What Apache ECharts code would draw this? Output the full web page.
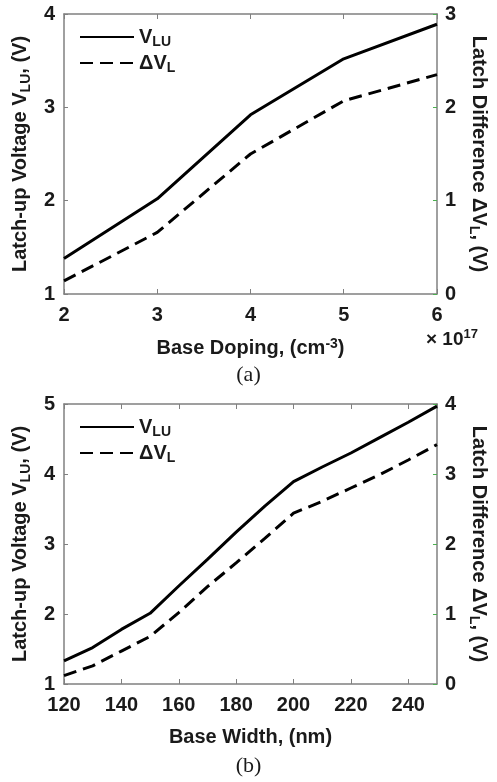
<!DOCTYPE html>
<html>
<head>
<meta charset="utf-8">
<script src="https://cdn.jsdelivr.net/npm/echarts@6/dist/echarts.min.js"></script>
<style>
html,body{margin:0;padding:0;background:#fff;}
#chart{width:497px;height:782px;}
</style>
</head>
<body>
<div id="chart"></div>
<script>
// ---- Data (a): base doping (x 1e17 cm^-3) ----
const dopingX = [2, 3, 4, 5, 6];
const dopingVLU = [1.38, 2.02, 2.92, 3.52, 3.89];
const dopingDVL = [0.14, 0.66, 1.50, 2.07, 2.35];

// ---- Data (b): base width (nm) ----
const widthX = [120, 130, 140, 150, 160, 170, 180, 190, 200, 210, 220, 230, 240, 250];
const widthVLU = [1.33, 1.52, 1.78, 2.01, 2.40, 2.78, 3.17, 3.54, 3.89, 4.10, 4.30, 4.52, 4.74, 4.97];
const widthDVL = [0.12, 0.26, 0.47, 0.68, 1.02, 1.39, 1.73, 2.08, 2.44, 2.61, 2.80, 2.99, 3.20, 3.42];

const FONT = 'Liberation Sans, Arial, sans-serif';
const TXT = '#1a1a1a';
const AXC = '#808080';

function pairs(xs, ys) { return xs.map((x, i) => [x, ys[i]]); }

const richName = {
  n: { fontSize: 20, fontWeight: 'bold', color: TXT, fontFamily: FONT },
  s: { fontSize: 14, fontWeight: 'bold', color: TXT, fontFamily: FONT, padding: [10, 0, 0, 0] },
  p: { fontSize: 14, fontWeight: 'bold', color: TXT, fontFamily: FONT, padding: [0, 0, 9, 0] }
};

function xAxes(grid, min, max, interval, name) {
  return [
    {
      type: 'value', gridIndex: grid, min: min, max: max, interval: interval, position: 'bottom',
      axisLine: { onZero: false, lineStyle: { color: AXC, width: 1.5 } },
      axisTick: { inside: true, length: 5, lineStyle: { color: AXC } },
      axisLabel: { fontSize: 20, fontWeight: 'bold', color: TXT, fontFamily: FONT, margin: 11 },
      splitLine: { show: false },
      name: name, nameLocation: 'middle', nameGap: 43,
      nameTextStyle: { rich: richName }
    },
    {
      type: 'value', gridIndex: grid, min: min, max: max, interval: interval, position: 'top',
      axisLine: { onZero: false, lineStyle: { color: AXC, width: 1.5 } },
      axisTick: { inside: true, length: 5, lineStyle: { color: AXC } },
      axisLabel: { show: false }, splitLine: { show: false }
    }
  ];
}

function yAxes(grid, lmin, lmax, rmin, rmax, lname, rname) {
  return [
    {
      type: 'value', gridIndex: grid, min: lmin, max: lmax, interval: 1, position: 'left',
      axisLine: { show: true, onZero: false, lineStyle: { color: AXC, width: 1.5 } },
      axisTick: { show: true, inside: true, length: 4, lineStyle: { color: AXC } },
      axisLabel: { fontSize: 20, fontWeight: 'bold', color: TXT, fontFamily: FONT, margin: 9 },
      splitLine: { show: false },
      name: lname, nameLocation: 'middle', nameGap: 30, nameRotate: 90,
      nameTextStyle: { rich: richName }
    },
    {
      type: 'value', gridIndex: grid, min: rmin, max: rmax, interval: 1, position: 'right',
      axisLine: { show: true, onZero: false, lineStyle: { color: AXC, width: 1.5 } },
      axisTick: { show: true, inside: true, length: 4, lineStyle: { color: '#4caf50' } },
      axisLabel: { fontSize: 20, fontWeight: 'bold', color: TXT, fontFamily: FONT, margin: 8 },
      splitLine: { show: false },
      name: rname, nameLocation: 'middle', nameGap: 30, nameRotate: -90,
      nameTextStyle: { rich: richName }
    }
  ];
}

const leftName = '{n|Latch-up Voltage V}{s|LU}{n|, (V)}';
const rightName = '{n|Latch Difference ΔV}{s|L}{n|, (V)}';

function lineSeries(name, xi, yi, data, dashed) {
  return {
    name: name, type: 'line', xAxisIndex: xi, yAxisIndex: yi,
    data: data, symbol: 'none', smooth: false, silent: true,
    itemStyle: { color: '#000' },
    lineStyle: { color: '#000', width: 3, type: dashed ? [13, 7] : 'solid' }
  };
}

function legendFor(top) {
  return {
    orient: 'vertical', left: 74, top: top, itemWidth: 54, itemHeight: 16, itemGap: 4,
    data: ['VLU', 'dVL'],
    itemStyle: { opacity: 0 },
    formatter: n => n === 'VLU' ? '{n|V}{s|LU}' : '{n|ΔV}{s|L}',
    textStyle: { rich: {
      n: { fontSize: 20, fontWeight: 'bold', color: TXT, fontFamily: FONT },
      s: { fontSize: 14, fontWeight: 'bold', color: TXT, fontFamily: FONT, padding: [10, 0, 0, 0] }
    } },
    selectedMode: false
  };
}

const option = {
  animation: false,
  backgroundColor: '#fff',
  grid: [
    { left: 64, right: 55, top: 14, height: 280 },
    { left: 64, right: 55, top: 404, height: 280 }
  ],
  xAxis: [
    ...xAxes(0, 2, 6, 1, '{n|Base Doping, (cm}{p|-3}{n|)}'),
    ...xAxes(1, 120, 250, 20, '{n|Base Width, (nm)}')
  ],
  yAxis: [
    ...yAxes(0, 1, 4, 0, 3, leftName, rightName),
    ...yAxes(1, 1, 5, 0, 4, leftName, rightName)
  ],
  legend: [legendFor(22), legendFor(412)],
  series: [
    lineSeries('VLU', 0, 0, pairs(dopingX, dopingVLU), false),
    lineSeries('dVL', 0, 1, pairs(dopingX, dopingDVL), true),
    lineSeries('VLU', 2, 2, pairs(widthX, widthVLU), false),
    lineSeries('dVL', 2, 3, pairs(widthX, widthDVL), true)
  ],
  graphic: [
    { type: 'text', left: 426, top: 328, style: {
      text: '{n|× 10}{p|17}',
      rich: {
        n: { fontSize: 19, fontWeight: 'bold', fill: TXT, fontFamily: FONT },
        p: { fontSize: 13, fontWeight: 'bold', fill: TXT, fontFamily: FONT, padding: [0, 0, 10, 0] }
      } } },
    { type: 'text', left: 'center', top: 364, style: {
      text: '(a)', fontSize: 22, fill: TXT, fontFamily: 'Liberation Serif, Times New Roman, serif' } },
    { type: 'text', left: 'center', top: 755, style: {
      text: '(b)', fontSize: 22, fill: TXT, fontFamily: 'Liberation Serif, Times New Roman, serif' } }
  ]
};

const chart = echarts.init(document.getElementById('chart'), null, { renderer: 'canvas' });
chart.setOption(option);
</script>
</body>
</html>
